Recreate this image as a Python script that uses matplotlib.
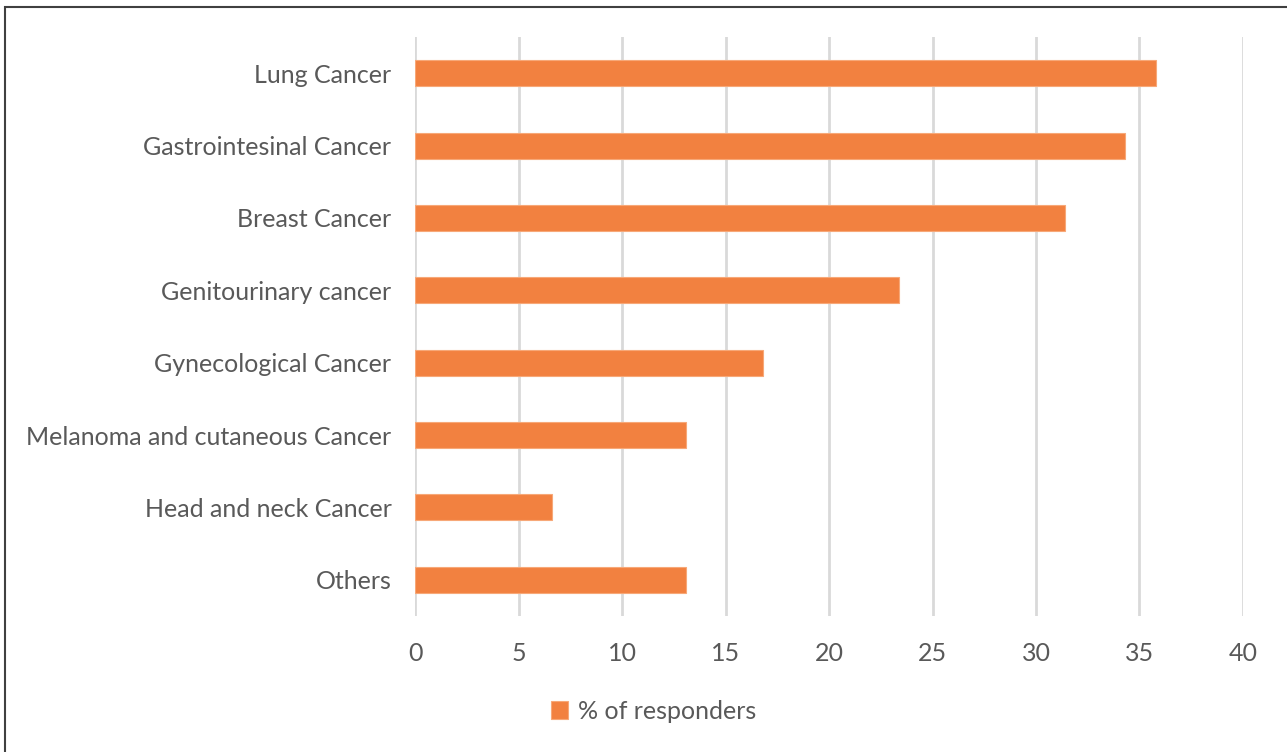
import matplotlib.pyplot as plt
from matplotlib.patches import Rectangle

categories = ['Lung Cancer', 'Gastrointesinal Cancer', 'Breast Cancer',
              'Genitourinary cancer', 'Gynecological Cancer',
              'Melanoma and cutaneous Cancer', 'Head and neck Cancer', 'Others']
values = [35.8, 34.3, 31.4, 23.4, 16.8, 13.1, 6.6, 13.1]
xticks = [0, 5, 10, 15, 20, 25, 30, 35, 40]
series_name = '% of responders'

orange = '#F28140'
text_col = '#595959'

plt.rcParams['font.family'] = ['Lato', 'DejaVu Sans']

fig = plt.figure(figsize=(12.87, 7.52), dpi=100)
ax = fig.add_axes([0.3225, 0.1809, 0.6433, 0.7699])

pos = list(range(len(categories)))[::-1]
ax.barh(pos, values, height=0.36, color=orange, edgecolor='#F7A878',
        linewidth=0.8, label=series_name, zorder=3)

ax.set_xlim(0, 40)
ax.set_ylim(-0.5, len(categories) - 0.5)
ax.set_xticks(xticks)
ax.set_yticks(pos)
ax.set_yticklabels(categories)
ax.grid(axis='x', color='#D9D9D9', linewidth=2, zorder=0)
for s in ax.spines.values():
    s.set_visible(False)
ax.tick_params(axis='both', length=0, labelsize=18, labelcolor=text_col)
ax.tick_params(axis='x', pad=19)
ax.tick_params(axis='y', pad=17)

fig.legend(loc='center', bbox_to_anchor=(0.508, 0.054), frameon=False,
           fontsize=18, labelcolor=text_col, handlelength=0.7,
           handleheight=0.7, handletextpad=0.4)

fig.patches.append(Rectangle((5 / 1287, -0.1), 1.2, 1 - 7 / 752 + 0.1,
                             transform=fig.transFigure, fill=False,
                             edgecolor='#404040', linewidth=1.5))

fig.savefig('out.png', dpi=100)
